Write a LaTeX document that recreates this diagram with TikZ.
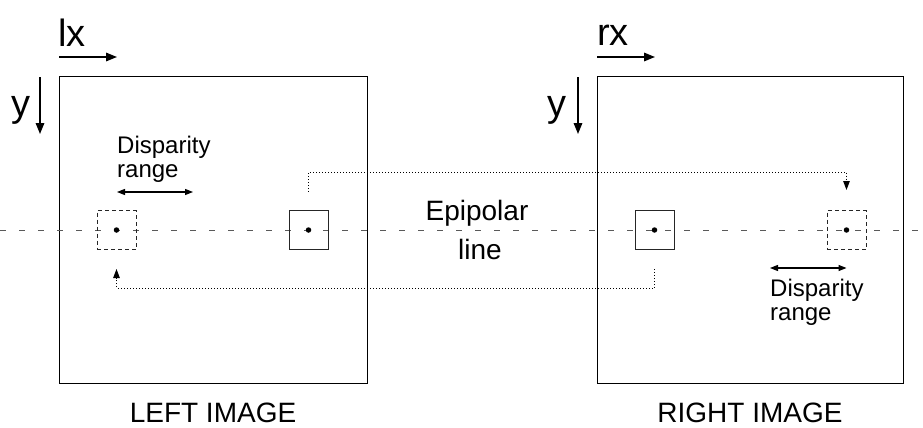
\documentclass[tikz,border=0pt]{standalone}
\usepackage{fontspec}
\setmainfont{Liberation Sans}
\usetikzlibrary{arrows.meta}
\begin{document}
\begin{tikzpicture}[x=1pt,y=-1pt,
  imgbox/.style={draw=black,line width=1pt,inner sep=0pt,minimum width=308pt,minimum height=307pt},
  solidwin/.style={draw=black!85,line width=1pt,inner sep=0pt,minimum size=39pt},
  dashwin/.style={draw=black!85,line width=1pt,inner sep=0pt,minimum size=39pt,dash pattern=on 4pt off 3pt},
  centerdot/.style={fill=black,circle,inner sep=0pt,minimum size=5.5pt},
  axisarrow/.style={line width=1.6pt,-{Triangle[length=11pt,width=8.5pt]}},
  rangearrow/.style={line width=1.2pt,{Triangle[length=8pt,width=6pt]}-{Triangle[length=8pt,width=6pt]}},
  conn/.style={line width=1pt,dash pattern=on 1pt off 2pt,-{Triangle[length=9pt,width=6.5pt]}},
  epi/.style={draw=black!65,line width=1pt,dash pattern=on 5.5pt off 13.5pt},
  axislabel/.style={inner sep=0pt,font=\fontsize{38}{40}\selectfont},
  smalllabel/.style={inner sep=0pt,font=\fontsize{24}{26}\selectfont,anchor=base west},
  midlabel/.style={inner sep=0pt,font=\fontsize{28}{30}\selectfont,anchor=base}
]
\useasboundingbox (0,0) rectangle (923,428);

% image frames
\node[imgbox] (L) at (213,229.5) {};
\node[imgbox,minimum width=306pt] (R) at (750,229.5) {};

% epipolar line
\coordinate (e1) at (0,230);
\coordinate (e2) at (923,230);
\draw[epi] (e1) -- (e2);

% windows
\node[dashwin]  (wL) at (116.5,230) {};
\node[solidwin] (sL) at (308.5,230) {};
\node[solidwin] (sR) at (654.5,230) {};
\node[dashwin]  (wR) at (846.5,230) {};
\foreach \n in {wL,sL,sR,wR} \node[centerdot] at (\n.center) {};

% axis labels and arrows
\node[axislabel,anchor=base west] (lx) at (58,46.5) {lx};
\node[axislabel,anchor=base west] (rx) at (597,46) {rx};
\node[axislabel,anchor=base west] (ly) at (11,116.5) {y};
\node[axislabel,anchor=base west] (ry) at (547,116.5) {y};
\coordinate (lxa1) at (59,57);   \coordinate (lxa2) at (117,57);
\coordinate (rxa1) at (597,57);  \coordinate (rxa2) at (655,57);
\coordinate (lya1) at (40,77);   \coordinate (lya2) at (40,134);
\coordinate (rya1) at (578,77);  \coordinate (rya2) at (578,134);
\draw[axisarrow] (lxa1) -- (lxa2);
\draw[axisarrow] (rxa1) -- (rxa2);
\draw[axisarrow] (lya1) -- (lya2);
\draw[axisarrow] (rya1) -- (rya2);

% disparity ranges
\node[smalllabel] (d1a) at (117,153) {Disparity};
\node[smalllabel] (d1b) at (117,177) {range};
\coordinate (r1a) at (117,192); \coordinate (r1b) at (193,192);
\draw[rangearrow] (r1a) -- (r1b);
\node[smalllabel] (d2a) at (770,296) {Disparity};
\node[smalllabel] (d2b) at (770,320) {range};
\coordinate (r2a) at (770,268); \coordinate (r2b) at (846.5,268);
\draw[rangearrow] (r2a) -- (r2b);

% epipolar label
\node[midlabel] (ep1) at (477,220) {Epipolar};
\node[midlabel] (ep2) at (480,259) {line};

% correspondence connectors
\draw[conn] ([yshift=18.5pt]sL.north) -- ([yshift=38pt]sL.north) -| ([yshift=20pt]wR.north);
\draw[conn] ([yshift=-19pt]sR.south) -- ([yshift=-38pt]sR.south) -| ([yshift=-19pt]wL.south);

% captions
\node[midlabel,text depth=0pt] (capL) at (213,422.5) {LEFT IMAGE};
\node[midlabel,text depth=0pt] (capR) at (750,422.5) {RIGHT IMAGE};
\end{tikzpicture}
\end{document}
